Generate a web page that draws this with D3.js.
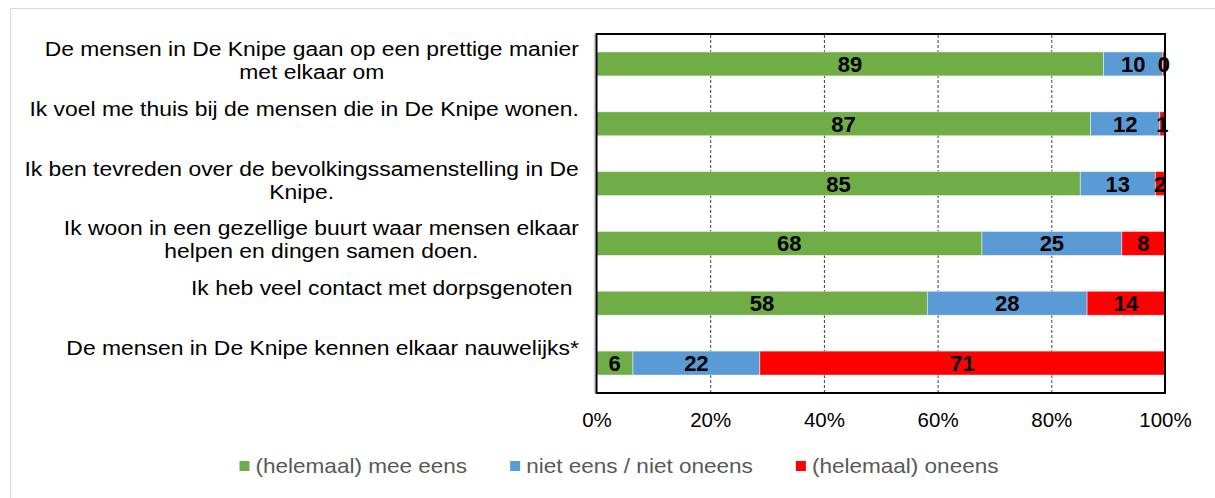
<!DOCTYPE html>
<html>
<head>
<meta charset="utf-8">
<script src="https://cdn.jsdelivr.net/npm/d3@7"></script>
<style>
  html, body { margin: 0; padding: 0; background: #fff; }
  svg { display: block; font-family: "Liberation Sans", Arial, sans-serif; }
</style>
</head>
<body>
<svg id="chart" width="1215" height="498"></svg>
<script>
// ---- data ----
const categories = [
  "De mensen in De Knipe gaan op een prettige manier\nmet elkaar om",
  "Ik voel me thuis bij de mensen die in De Knipe wonen.",
  "Ik ben tevreden over de bevolkingssamenstelling in De\nKnipe.",
  "Ik woon in een gezellige buurt waar mensen elkaar\nhelpen en dingen samen doen.",
  "Ik heb veel contact met dorpsgenoten ",
  "De mensen in De Knipe kennen elkaar nauwelijks*"
];
const seriesNames = ["(helemaal) mee eens", "niet eens / niet oneens", "(helemaal) oneens"];
const seriesColors = ["#70ad47", "#5b9bd5", "#ff0000"];
const agree    = [89.2, 86.9, 85.1, 67.8, 58.2, 6.4];
const neutral  = [10.4, 12.2, 13.2, 24.6, 28.1, 22.3];
const disagree = [0.4, 0.9, 1.7, 7.6, 13.7, 71.2];
const tickValues = [0, 0.2, 0.4, 0.6, 0.8, 1.0];
const tickLabels = ["0%", "20%", "40%", "60%", "80%", "100%"];

// ---- layout ----
const svg = d3.select("#chart");
const plot = { left: 596.5, right: 1165, top: 34, bottom: 393 };
const stretch = 1.09;

// outer chart border (light gray, only top/left visible)
svg.append("path")
  .attr("d", `M10.5,498 L10.5,8.5 L1215,8.5`)
  .attr("fill", "none").attr("stroke", "#d9d9d9").attr("stroke-width", 1);

const rows = categories.map((c, i) => ({
  cat: c, s0: agree[i], s1: neutral[i], s2: disagree[i]
}));
const stack = d3.stack().keys(["s0", "s1", "s2"]).offset(d3.stackOffsetExpand);
const stacked = stack(rows);

const x = d3.scaleLinear().domain([0, 1]).range([plot.left, plot.right]);
const y = d3.scaleBand().domain(categories).range([plot.top, plot.bottom])
  .paddingInner(0.6).paddingOuter(0.3);

// gridlines
const grid = svg.append("g")
  .attr("transform", `translate(0,${plot.bottom})`)
  .call(d3.axisBottom(x).tickValues(tickValues.slice(1, -1))
    .tickSize(-(plot.bottom - plot.top)).tickFormat(""));
grid.select(".domain").remove();
grid.selectAll("line").attr("stroke", "#404040").attr("stroke-width", 1)
  .attr("stroke-dasharray", "3,2");

// bars
const layers = svg.append("g").selectAll("g").data(stacked).join("g")
  .attr("fill", (d, i) => seriesColors[i]);
layers.selectAll("rect").data(d => d.map(v => ({ v, cat: v.data.cat }))).join("rect")
  .attr("x", d => x(d.v[0]))
  .attr("width", d => x(d.v[1]) - x(d.v[0]))
  .attr("y", d => y(d.cat))
  .attr("height", y.bandwidth())
  .attr("stroke", "rgba(255,255,255,0.55)").attr("stroke-width", 0.8);

// data labels
const rawKeys = ["s0", "s1", "s2"];
stacked.forEach((layer, li) => {
  svg.append("g").selectAll("text").data(layer).join("text")
    .attr("x", d => (x(d[0]) + x(d[1])) / 2)
    .attr("y", d => y(d.data.cat) + y.bandwidth() / 2 + 8)
    .attr("text-anchor", "middle")
    .attr("font-size", 22).attr("font-weight", "bold").attr("fill", "#000")
    .text(d => Math.round(d.data[rawKeys[li]]));
});

// plot border box
svg.append("line").attr("x1", plot.left - 2).attr("x2", plot.left - 2)
  .attr("y1", plot.top).attr("y2", plot.bottom).attr("stroke", "#d0d0d0").attr("stroke-width", 1.5);
svg.append("rect")
  .attr("x", plot.left).attr("y", plot.top)
  .attr("width", plot.right - plot.left).attr("height", plot.bottom - plot.top)
  .attr("fill", "none").attr("stroke", "#000").attr("stroke-width", 2);

// x axis labels
const xAxis = svg.append("g")
  .attr("transform", `translate(0,${plot.bottom})`)
  .call(d3.axisBottom(x).tickValues(tickValues).tickSize(0).tickPadding(0)
    .tickFormat((d, i) => tickLabels[i]));
xAxis.select(".domain").remove();
xAxis.selectAll("text").attr("font-size", 20.5).attr("fill", "#000")
  .attr("font-family", "Liberation Sans, Arial, sans-serif")
  .attr("dy", null).attr("y", 34);

// category labels
const catG = svg.append("g");
const catFont = 21, lineH = 23, rightEdge = 579;
categories.forEach(c => {
  const lines = c.split("\n");
  const cy = y(c) + y.bandwidth() / 2;
  const t = catG.append("text").attr("font-size", catFont).attr("fill", "#000")
    .attr("text-anchor", "middle").style("white-space", "pre");
  lines.forEach((l, i) => {
    t.append("tspan").attr("x", 0).attr("y", cy - 8 + i * lineH).text(l);
  });
  let maxW = 0;
  t.selectAll("tspan").each(function () { maxW = Math.max(maxW, this.getComputedTextLength()); });
  const cx = rightEdge - maxW * stretch / 2;
  t.attr("transform", `translate(${cx},0) scale(${stretch},1)`);
});

// legend
const legend = svg.append("g");
const items = legend.selectAll("g").data(seriesNames).join("g");
items.append("rect").attr("width", 10).attr("height", 10).attr("y", -5)
  .attr("fill", (d, i) => seriesColors[i]);
items.append("text").attr("transform", `translate(16,7) scale(1.1,1)`)
  .attr("font-size", 20.5).attr("fill", "#595959").text(d => d);
let offs = [], cur = 0;
items.each(function () {
  offs.push(cur);
  cur += 16 + d3.select(this).select("text").node().getComputedTextLength() * 1.1 + 43;
});
const totalW = cur - 43;
const lx = 619 - totalW / 2;
items.attr("transform", (d, i) => `translate(${lx + offs[i]},466)`);
</script>
</body>
</html>
